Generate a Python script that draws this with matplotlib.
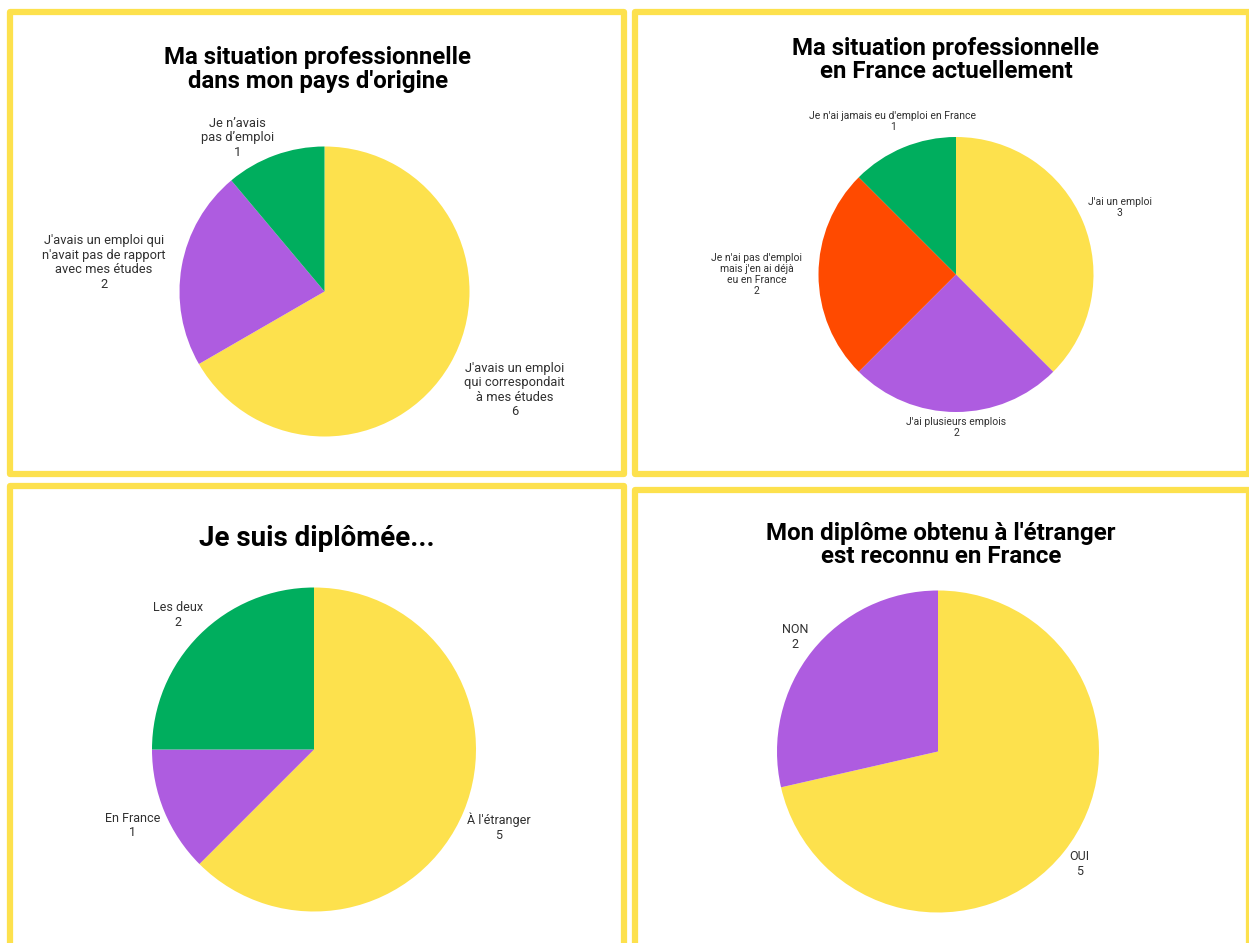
import matplotlib
matplotlib.use('Agg')
import matplotlib.pyplot as plt
from matplotlib.patches import Rectangle

W, H = 1249, 943
plt.rcParams['font.family'] = ['Roboto', 'DejaVu Sans']

YELLOW = '#FDE14D'
PURPLE = '#AE5CE0'
GREEN = '#00AE5E'
ORANGE = '#FF4A00'

# panel 1 - pays d'origine
p1_title = "Ma situation professionnelle\ndans mon pays d'origine"
p1_labels = ["J'avais un emploi\nqui correspondait\nà mes études",
             "J'avais un emploi qui\nn'avait pas de rapport\navec mes études",
             "Je n’avais\npas d’emploi"]
p1_values = [6, 2, 1]
p1_colors = [YELLOW, PURPLE, GREEN]

# panel 2 - France actuellement
p2_title = "Ma situation professionnelle\nen France actuellement"
p2_labels = ["J'ai un emploi", "J'ai plusieurs emplois",
             "Je n'ai pas d'emploi\nmais j'en ai déjà\neu en France",
             "Je n'ai jamais eu d'emploi en France"]
p2_values = [3, 2, 2, 1]
p2_colors = [YELLOW, PURPLE, ORANGE, GREEN]

# panel 3 - diplome
p3_title = "Je suis diplômée..."
p3_labels = ["À l'étranger", "En France", "Les deux"]
p3_values = [5, 1, 2]
p3_colors = [YELLOW, PURPLE, GREEN]

# panel 4 - reconnaissance
p4_title = "Mon diplôme obtenu à l'étranger\nest reconnu en France"
p4_labels = ["OUI", "NON"]
p4_values = [5, 2]
p4_colors = [YELLOW, PURPLE]

fig = plt.figure(figsize=(W / 100, H / 100), dpi=100)
fig.patch.set_facecolor('white')


def px(x, y):
    return x / W, 1 - y / H


# yellow frames (pixel boxes: x0, y0, x1, y1)
frames = [(10, 12, 624, 474), (635, 12, 1249, 474),
          (10, 486, 624, 960), (635, 490, 1249, 960)]
for x0, y0, x1, y1 in frames:
    fx, fy = px(x0, y1)
    fig.patches.append(Rectangle((fx, fy), (x1 - x0) / W, (y1 - y0) / H,
                                 transform=fig.transFigure, fill=False,
                                 edgecolor=YELLOW, linewidth=4.5,
                                 joinstyle='round'))


def draw_pie(cx, cy, r, values, colors, labels, label_pos, fs,
             title, tx, ty, tfs):
    ax = fig.add_axes([(cx - r) / W, 1 - (cy + r) / H, 2 * r / W, 2 * r / H])
    ax.pie(values, colors=colors, startangle=90, counterclock=False,
           wedgeprops=dict(linewidth=0))
    ax.set_xlim(-1, 1)
    ax.set_ylim(-1, 1)
    ax.axis('off')
    for lab, v, (lx, ly) in zip(labels, values, label_pos):
        ax.text(lx, ly, f"{lab}\n{v}", ha='center', va='center',
                fontsize=fs, color='#303030', clip_on=False,
                multialignment='center', linespacing=1.15)
    fx, fy = px(tx, ty)
    fig.text(fx, fy, title, ha='center', va='center', fontsize=tfs,
             fontweight='bold', color='black', multialignment='center',
             linespacing=1.05)


draw_pie(324.5, 291.5, 145, p1_values, p1_colors, p1_labels,
         [(1.31, -0.68), (-1.52, 0.20), (-0.60, 1.06)], 9.3,
         p1_title, 318, 69.5, 17.3)
draw_pie(956, 274.5, 137.5, p2_values, p2_colors, p2_labels,
         [(1.19, 0.49), (0.0, -1.11), (-1.45, 0.0), (-0.46, 1.11)], 7.5,
         p2_title, 946, 60, 17.3)
draw_pie(314, 749.5, 162, p3_values, p3_colors, p3_labels,
         [(1.14, -0.48), (-1.12, -0.47), (-0.84, 0.83)], 9,
         p3_title, 317, 538, 20)
draw_pie(938, 751.5, 161, p4_values, p4_colors, p4_labels,
         [(0.88, -0.70), (-0.89, 0.71)], 9,
         p4_title, 941, 545, 17.4)

fig.savefig('out.png', dpi=100)
